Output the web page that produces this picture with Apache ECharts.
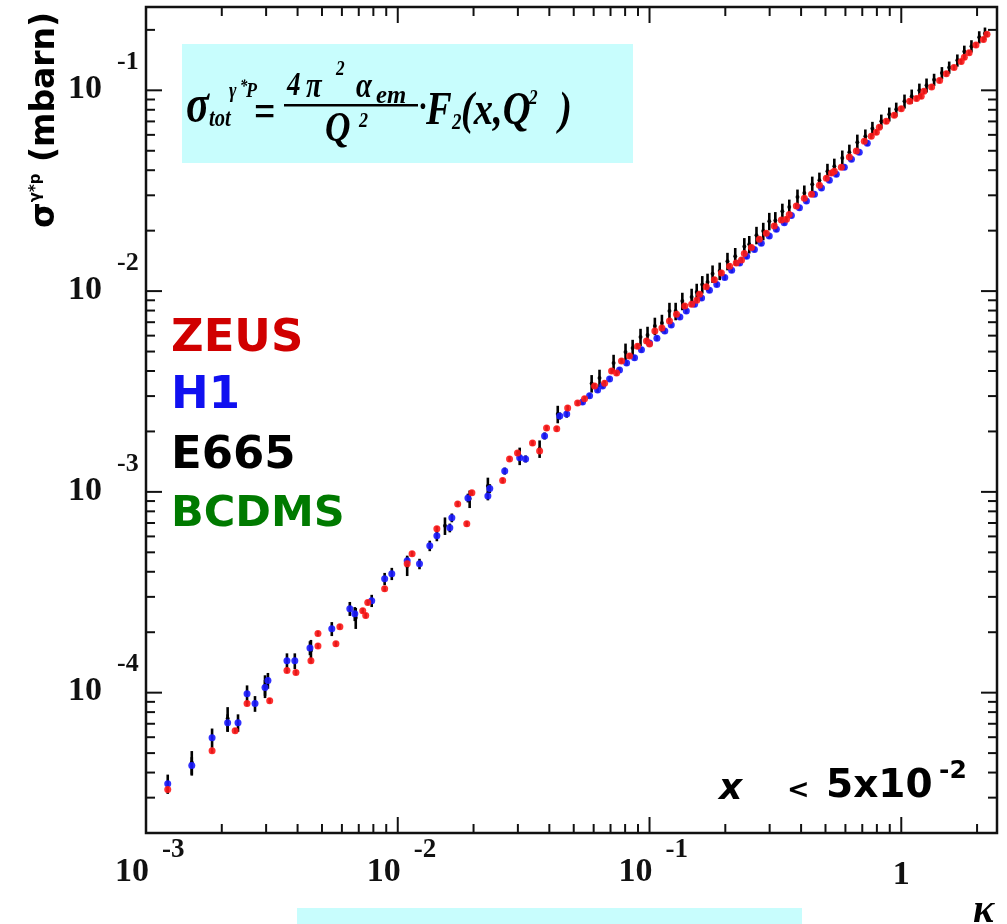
<!DOCTYPE html>
<html>
<head>
<meta charset="utf-8">
<script src="https://cdn.jsdelivr.net/npm/echarts@6/dist/echarts.min.js"></script>
<style>
  html, body { margin: 0; padding: 0; background: #ffffff; }
  #chart { width: 1007px; height: 924px; }
</style>
</head>
<body>
<div id="chart"></div>
<script>
// Axis ranges (log-log)
const X_MIN = 0.001, X_MAX = 2.4;
const Y_MIN = 2e-5, Y_MAX = 0.26;

// Decade tick labels
const xMajorTicks = [0.001, 0.01, 0.1, 1];
const xTickBase = ['10', '10', '10', '1'];
const xTickExp = ['-3', '-2', '-1', ''];
const yMajorTicks = [1e-4, 1e-3, 1e-2, 1e-1];
const yTickBase = ['10', '10', '10', '10'];
const yTickExp = ['-4', '-3', '-2', '-1'];
const xDecades = [0.001, 0.01, 0.1, 1];
const yDecades = [1e-5, 1e-4, 1e-3, 1e-2, 1e-1];
const minorSteps = [2, 3, 4, 5, 6, 7, 8, 9];

// Measurements: [tau, sigma (mbarn), relative error %]
const zeusData = [
  [0.00122, 3.29e-5, 3], [0.00183, 5.14e-5, 3], [0.00226, 6.47e-5, 3], [0.00252, 8.82e-5, 3],
  [0.00310, 9.12e-5, 3], [0.00363, 1.29e-4, 3], [0.00394, 1.26e-4, 3], [0.00452, 1.44e-4, 3],
  [0.00482, 1.97e-4, 3], [0.00482, 1.71e-4, 3], [0.00589, 2.13e-4, 3], [0.00568, 1.75e-4, 3],
  [0.00726, 2.56e-4, 3], [0.00746, 2.42e-4, 3], [0.00760, 2.81e-4, 3], [0.00887, 3.29e-4, 3],
  [0.0109, 4.38e-4, 3], [0.0114, 4.92e-4, 3], [0.0143, 6.55e-4, 3], [0.0173, 8.71e-4, 3],
  [0.0188, 6.93e-4, 3], [0.0197, 9.89e-4, 3], [0.0261, 1.14e-3, 3], [0.0278, 1.46e-3, 3],
  [0.0299, 1.56e-3, 3], [0.0343, 1.75e-3, 3], [0.0366, 1.60e-3, 3], [0.0390, 2.08e-3, 3],
  [0.0428, 2.06e-3, 3], [0.0473, 2.62e-3, 3], [0.0518, 2.77e-3, 3],
  [0.0552, 2.91e-3, 3], [0.0605, 3.37e-3, 3], [0.0663, 3.48e-3, 3], [0.0707, 4.00e-3, 3],
  [0.0740, 3.91e-3, 3], [0.0774, 4.49e-3, 3], [0.0833, 4.75e-3, 3], [0.0896, 5.32e-3, 3],
  [0.0973, 5.64e-3, 3], [0.100, 5.45e-3, 3], [0.105, 6.32e-3, 3], [0.112, 6.55e-3, 3],
  [0.120, 7.10e-3, 3], [0.128, 7.67e-3, 3], [0.138, 8.42e-3, 3], [0.147, 8.60e-3, 3],
  [0.154, 9.00e-3, 3], [0.158, 9.65e-3, 3], [0.168, 1.05e-2, 3], [0.181, 1.14e-2, 3],
  [0.193, 1.23e-2, 3], [0.208, 1.33e-2, 3], [0.221, 1.38e-2, 3], [0.232, 1.43e-2, 3],
  [0.238, 1.54e-2, 3], [0.254, 1.65e-2, 3], [0.273, 1.81e-2, 3], [0.291, 1.94e-2, 3],
  [0.313, 2.11e-2, 3], [0.334, 2.26e-2, 3], [0.350, 2.28e-2, 3], [0.359, 2.41e-2, 3],
  [0.383, 2.65e-2, 3], [0.412, 2.90e-2, 3], [0.440, 3.04e-2, 3], [0.473, 3.37e-2, 3],
  [0.504, 3.65e-2, 3], [0.528, 3.87e-2, 3], [0.542, 3.95e-2, 3], [0.578, 4.14e-2, 3],
  [0.622, 4.65e-2, 3], [0.663, 4.98e-2, 3], [0.713, 5.58e-2, 3], [0.760, 5.91e-2, 3],
  [0.796, 6.19e-2, 3], [0.818, 6.55e-2, 3], [0.872, 7.01e-2, 3], [0.938, 7.51e-2, 3],
  [1.00, 8.10e-2, 3], [1.08, 8.82e-2, 3], [1.15, 9.10e-2, 3], [1.20, 9.34e-2, 3],
  [1.23, 9.89e-2, 3], [1.32, 0.104, 3], [1.42, 0.112, 3], [1.51, 0.121, 3],
  [1.62, 0.130, 3], [1.73, 0.139, 3], [1.78, 0.146, 3], [1.86, 0.154, 3],
  [1.98, 0.168, 3], [2.12, 0.179, 3], [2.19, 0.190, 3]
];

const h1Data = [
  [0.00122, 3.52e-5, 11], [0.00152, 4.34e-5, 10], [0.00183, 5.97e-5, 11], [0.00211, 7.09e-5, 10],
  [0.00232, 7.09e-5, 10], [0.00252, 9.88e-5, 10], [0.00271, 8.82e-5, 9], [0.00297, 1.06e-4, 9],
  [0.00305, 1.15e-4, 9], [0.00363, 1.44e-4, 9], [0.00390, 1.44e-4, 9], [0.00448, 1.67e-4, 8],
  [0.00547, 2.08e-4, 8], [0.00645, 2.62e-4, 8], [0.00675, 2.47e-4, 8], [0.00788, 2.87e-4, 7],
  [0.00887, 3.69e-4, 7], [0.00947, 3.91e-4, 7], [0.0109, 4.54e-4, 6], [0.0122, 4.38e-4, 6],
  [0.0134, 5.39e-4, 6], [0.0143, 6.04e-4, 6], [0.0161, 6.62e-4, 5], [0.0164, 7.43e-4, 5],
  [0.0190, 9.33e-4, 5], [0.0228, 9.55e-4, 5], [0.0232, 1.04e-3, 5], [0.0266, 1.27e-3, 4],
  [0.0305, 1.48e-3, 4], [0.0322, 1.46e-3, 4], [0.0383, 1.90e-3, 4], [0.0440, 2.39e-3, 4],
  [0.0469, 2.44e-3, 4],
  [0.0542, 2.80e-3, 3], [0.0578, 3.01e-3, 3], [0.0622, 3.22e-3, 3], [0.0651, 3.37e-3, 3],
  [0.0694, 3.65e-3, 3], [0.0760, 4.05e-3, 3], [0.0811, 4.38e-3, 3], [0.0872, 4.65e-3, 3],
  [0.0929, 5.10e-3, 3], [0.100, 5.51e-3, 3], [0.107, 5.83e-3, 3], [0.115, 6.32e-3, 3],
  [0.122, 6.78e-3, 3], [0.132, 7.43e-3, 3], [0.140, 7.95e-3, 3], [0.151, 8.60e-3, 3],
  [0.161, 9.23e-3, 3], [0.173, 1.01e-2, 3], [0.185, 1.08e-2, 3], [0.199, 1.17e-2, 3],
  [0.212, 1.27e-2, 3], [0.228, 1.38e-2, 3], [0.243, 1.49e-2, 3], [0.261, 1.61e-2, 3],
  [0.278, 1.73e-2, 3], [0.299, 1.88e-2, 3], [0.319, 2.03e-2, 3], [0.343, 2.19e-2, 3],
  [0.366, 2.38e-2, 3], [0.394, 2.60e-2, 3], [0.420, 2.81e-2, 3], [0.452, 3.04e-2, 3],
  [0.482, 3.26e-2, 3], [0.518, 3.57e-2, 3], [0.552, 3.82e-2, 3], [0.594, 4.14e-2, 3],
  [0.634, 4.54e-2, 3], [0.681, 4.92e-2, 3], [0.733, 5.45e-2, 3]
];

const e665Data = [
  [0.00152, 4.49e-5, 14], [0.00211, 7.43e-5, 14], [0.00297, 1.08e-4, 13], [0.00452, 1.62e-4, 13],
  [0.00681, 2.36e-4, 12], [0.0109, 4.28e-4, 11], [0.0154, 6.78e-4, 10], [0.0193, 9.23e-4, 10],
  [0.0228, 1.07e-3, 10], [0.0305, 1.51e-3, 10], [0.0366, 1.64e-3, 10], [0.0432, 2.44e-3, 10],
  [0.0589, 3.47e-3, 10], [0.0633, 3.69e-3, 10], [0.0720, 4.38e-3, 10], [0.0803, 4.98e-3, 10],
  [0.0857, 5.20e-3, 10], [0.0921, 5.90e-3, 10], [0.0982, 6.04e-3, 10], [0.105, 6.70e-3, 10],
  [0.112, 6.93e-3, 10], [0.120, 7.95e-3, 10], [0.127, 7.95e-3, 10], [0.135, 8.92e-3, 10],
  [0.147, 9.34e-3, 10], [0.154, 9.89e-3, 10], [0.162, 1.08e-2, 10], [0.170, 1.11e-2, 10],
  [0.178, 1.22e-2, 10], [0.190, 1.26e-2, 10], [0.204, 1.41e-2, 10], [0.219, 1.49e-2, 10],
  [0.238, 1.67e-2, 10], [0.249, 1.71e-2, 10], [0.266, 1.90e-2, 10], [0.283, 1.99e-2, 10],
  [0.299, 2.23e-2, 10], [0.316, 2.25e-2, 10], [0.337, 2.50e-2, 9], [0.359, 2.62e-2, 9],
  [0.387, 2.94e-2, 9], [0.412, 3.08e-2, 9], [0.443, 3.41e-2, 9], [0.473, 3.57e-2, 9],
  [0.509, 3.95e-2, 9], [0.542, 4.19e-2, 9], [0.583, 4.60e-2, 9], [0.622, 4.92e-2, 9],
  [0.669, 5.52e-2, 9], [0.720, 5.91e-2, 8], [0.768, 6.45e-2, 8], [0.833, 7.01e-2, 8],
  [0.896, 7.60e-2, 8], [0.955, 8.04e-2, 8], [1.03, 8.82e-2, 8], [1.10, 9.34e-2, 8],
  [1.18, 0.100, 8], [1.26, 0.106, 8], [1.35, 0.113, 7], [1.45, 0.122, 7],
  [1.55, 0.130, 7], [1.67, 0.141, 7], [1.78, 0.156, 7], [1.90, 0.166, 7],
  [2.04, 0.184, 7], [2.15, 0.192, 7]
];

// Tick tables built from the decade lists
const xMinorTicks = [];
xDecades.forEach(d => minorSteps.forEach(m => { const v = d * m; if (v > X_MIN && v < X_MAX) xMinorTicks.push(v); }));
const yMinorTicks = [];
yDecades.forEach(d => minorSteps.forEach(m => { const v = d * m; if (v > Y_MIN && v < Y_MAX) yMinorTicks.push(v); }));

const xTickData = xMajorTicks.map(v => [v, Y_MIN, 1]).concat(xMinorTicks.map(v => [v, Y_MIN, 0]));
const yTickData = yMajorTicks.map(v => [X_MIN, v, 1]).concat(yMinorTicks.map(v => [X_MIN, v, 0]));
const xLabelData = xMajorTicks.map((v, i) => [v, Y_MIN, i]);
const yLabelData = yMajorTicks.map((v, i) => [X_MIN, v, i]);

const INK = '#111111';
const SERIF = '"Liberation Serif", "DejaVu Serif", serif';
const SANS = '"DejaVu Sans", "Noto Sans", sans-serif';
const MAJOR_LEN = 16, MINOR_LEN = 9;

function renderXTicks(params, api) {
  const cs = params.coordSys;
  const px = api.coord([api.value(0), Y_MIN])[0];
  const len = api.value(2) === 1 ? MAJOR_LEN : MINOR_LEN;
  const bottom = cs.y + cs.height, top = cs.y;
  const st = { stroke: INK, lineWidth: 2 };
  return { type: 'group', children: [
    { type: 'line', shape: { x1: px, y1: bottom, x2: px, y2: bottom - len }, style: st },
    { type: 'line', shape: { x1: px, y1: top, x2: px, y2: top + len }, style: st }
  ] };
}

function renderYTicks(params, api) {
  const cs = params.coordSys;
  const py = api.coord([X_MIN, api.value(1)])[1];
  const len = api.value(2) === 1 ? MAJOR_LEN : MINOR_LEN;
  const left = cs.x, right = cs.x + cs.width;
  const st = { stroke: INK, lineWidth: 2 };
  return { type: 'group', children: [
    { type: 'line', shape: { x1: left, y1: py, x2: left + len, y2: py }, style: st },
    { type: 'line', shape: { x1: right, y1: py, x2: right - len, y2: py }, style: st }
  ] };
}

function renderXLabels(params, api) {
  const cs = params.coordSys;
  const i = api.value(2);
  const px = api.coord([api.value(0), Y_MIN])[0];
  const base = cs.y + cs.height;
  if (!xTickExp[i]) {
    return { type: 'text', x: px, y: base + 42,
      style: { text: xTickBase[i], fill: INK, font: 'bold 34px ' + SERIF, align: 'center', verticalAlign: 'middle' } };
  }
  return { type: 'group', children: [
    { type: 'text', x: px + 3, y: base + 39,
      style: { text: xTickBase[i], fill: INK, font: 'bold 34px ' + SERIF, align: 'right', verticalAlign: 'middle' } },
    { type: 'text', x: px + 16, y: base + 17,
      style: { text: xTickExp[i], fill: INK, font: 'bold 27px ' + SERIF, align: 'left', verticalAlign: 'middle' } }
  ] };
}

function renderYLabels(params, api) {
  const cs = params.coordSys;
  const i = api.value(2);
  const py = api.coord([X_MIN, api.value(1)])[1];
  return { type: 'group', children: [
    { type: 'text', x: cs.x - 44, y: py - 1,
      style: { text: yTickBase[i], fill: INK, font: 'bold 34px ' + SERIF, align: 'right', verticalAlign: 'middle' } },
    { type: 'text', x: cs.x - 29, y: py - 28,
      style: { text: yTickExp[i], fill: INK, font: 'bold 26px ' + SERIF, align: 'left', verticalAlign: 'middle' } }
  ] };
}

function renderErrorBars(params, api) {
  const t = api.value(0), s = api.value(1), e = api.value(2) / 100;
  const lo = api.coord([t, s * (1 - e)]);
  const hi = api.coord([t, s * (1 + e)]);
  return { type: 'line', shape: { x1: lo[0], y1: lo[1], x2: hi[0], y2: hi[1] },
    style: { stroke: '#000000', lineWidth: 2.6 } };
}

function errorSeries(name, data) {
  return { name: name + ' errors', type: 'custom', renderItem: renderErrorBars, data: data,
    dimensions: ['tau', 'sigma', 'err'], encode: { x: 0, y: 1 }, z: 3, clip: true, silent: true };
}

function pointSeries(name, data, color, size, z) {
  return { name: name, type: 'scatter', data: data, dimensions: ['tau', 'sigma', 'err'],
    encode: { x: 0, y: 1 }, symbol: 'circle', symbolSize: size,
    itemStyle: { color: color, opacity: 0.9 }, z: z, silent: true };
}

const chart = echarts.init(document.getElementById('chart'), null, { renderer: 'canvas' });

// Equation panel pieces (bold italic serif, slightly condensed)
function eq(text, x, y, size, opts) {
  opts = opts || {};
  return { type: 'text', x: x, y: y, scaleX: opts.sx || 0.82, scaleY: 1, z: 20,
    style: { text: text, fill: '#000', align: 'left', verticalAlign: 'middle',
      font: (opts.upright ? 'bold ' : 'italic bold ') + size + 'px ' + SERIF } };
}

const graphics = [
  { type: 'rect', shape: { x: 182, y: 44, width: 451, height: 119 }, style: { fill: '#c8fdfd' }, z: 10 },
  eq('σ', 186, 108, 52),
  eq('γ', 229, 91, 22), eq('*', 240, 87, 18), eq('P', 246, 91, 22),
  eq('tot', 209, 120, 25),
  eq('=', 254, 114, 46, { upright: true }),
  eq('4', 287, 86, 33), eq('π', 306, 88, 35), eq('2', 336, 70, 21),
  eq('α', 356, 88, 35), eq('em', 376, 96, 26, { sx: 0.95 }),
  { type: 'rect', shape: { x: 284, y: 104, width: 134, height: 2.5 }, style: { fill: '#000' }, z: 20 },
  eq('Q', 325, 130, 43), eq('2', 359, 121, 22),
  eq('·', 418, 109, 36, { upright: true }),
  eq('F', 426, 112, 47), eq('2', 452, 123, 23),
  eq('(x,Q', 461, 112, 47), eq('2', 529, 99, 21), eq(')', 559, 112, 47),

  // Experiment legend
  { type: 'text', x: 171, y: 339, z: 20, style: { text: 'ZEUS', fill: '#d00000', font: 'bold 45px ' + SANS, verticalAlign: 'middle' } },
  { type: 'text', x: 171, y: 396, z: 20, style: { text: 'H1', fill: '#1010f0', font: 'bold 45px ' + SANS, verticalAlign: 'middle' } },
  { type: 'text', x: 171, y: 456, z: 20, style: { text: 'E665', fill: '#000000', font: 'bold 45px ' + SANS, verticalAlign: 'middle' } },
  { type: 'text', x: 171, y: 515, z: 20, style: { text: 'BCDMS', fill: '#007a00', font: 'bold 43px ' + SANS, verticalAlign: 'middle' } },

  // Kinematic cut annotation
  { type: 'text', x: 719, y: 790, z: 20, style: { text: 'x', fill: '#000', font: 'italic bold 36px ' + SANS, verticalAlign: 'middle' } },
  { type: 'text', x: 787, y: 791, z: 20, style: { text: '<', fill: '#000', font: 'bold 27px ' + SANS, verticalAlign: 'middle' } },
  { type: 'text', x: 826, y: 787, z: 20, style: { text: '5x10', fill: '#000', font: 'bold 39px ' + SANS, verticalAlign: 'middle' } },
  { type: 'text', x: 939, y: 771, z: 20, style: { text: '-2', fill: '#000', font: 'bold 25px ' + SANS, verticalAlign: 'middle' } },

  // Vertical axis title
  { type: 'text', x: 62, y: 228, rotation: Math.PI / 2, z: 20,
    style: { text: '{s|σ}{p|γ*p}{t| (mbarn)}', fill: '#000', align: 'left', verticalAlign: 'bottom',
      rich: {
        s: { fontSize: 33, fontWeight: 'bold', fontFamily: SANS, fill: '#000' },
        p: { fontSize: 15, fontWeight: 'bold', fontFamily: SANS, fill: '#000', verticalAlign: 'top' },
        t: { fontSize: 33, fontWeight: 'bold', fontFamily: SANS, fill: '#000' }
      } } },

  // Horizontal axis symbol and lower panel edge
  { type: 'text', x: 973, y: 912, z: 20, style: { text: 'κ', fill: '#000', font: 'italic bold 40px ' + SERIF, verticalAlign: 'middle' } },
  { type: 'rect', shape: { x: 297, y: 908, width: 505, height: 20 }, style: { fill: '#c8fdfd' }, z: 10 }
];

chart.setOption({
  animation: false,
  backgroundColor: '#ffffff',
  grid: { left: 146, right: 10, top: 7, bottom: 91, show: true, borderColor: INK, borderWidth: 2.5,
    backgroundColor: 'transparent' },
  xAxis: { type: 'log', logBase: 10, min: X_MIN, max: X_MAX,
    axisLine: { show: false }, axisTick: { show: false }, axisLabel: { show: false }, splitLine: { show: false } },
  yAxis: { type: 'log', logBase: 10, min: Y_MIN, max: Y_MAX,
    axisLine: { show: false }, axisTick: { show: false }, axisLabel: { show: false }, splitLine: { show: false } },
  graphic: graphics,
  series: [
    { name: 'x ticks', type: 'custom', renderItem: renderXTicks, data: xTickData, encode: { x: 0, y: 1 }, z: 6, clip: false, silent: true },
    { name: 'y ticks', type: 'custom', renderItem: renderYTicks, data: yTickData, encode: { x: 0, y: 1 }, z: 6, clip: false, silent: true },
    { name: 'x labels', type: 'custom', renderItem: renderXLabels, data: xLabelData, encode: { x: 0, y: 1 }, z: 6, clip: false, silent: true },
    { name: 'y labels', type: 'custom', renderItem: renderYLabels, data: yLabelData, encode: { x: 0, y: 1 }, z: 6, clip: false, silent: true },
    errorSeries('E665', e665Data),
    errorSeries('H1', h1Data),
    errorSeries('ZEUS', zeusData),
    pointSeries('E665', e665Data, '#000000', 4, 4),
    pointSeries('H1', h1Data, '#1a1aff', 7, 5),
    pointSeries('ZEUS', zeusData, '#ff1a1a', 7, 6)
  ]
});
</script>
</body>
</html>
